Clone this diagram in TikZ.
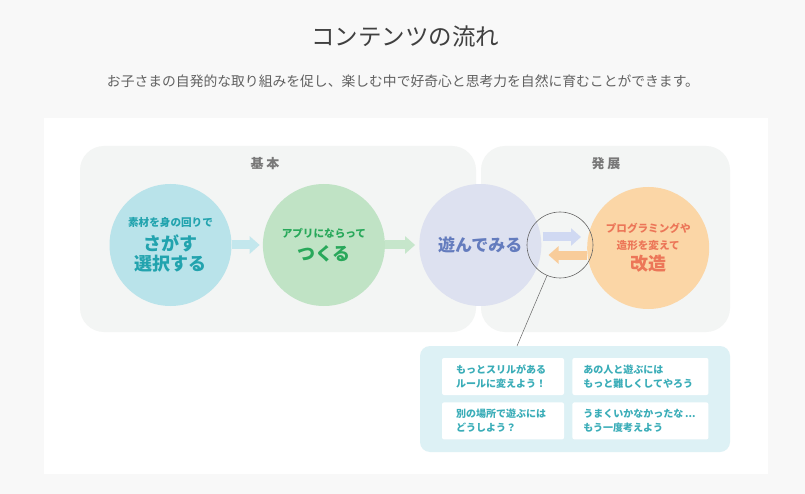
\documentclass[tikz,border=0pt]{standalone}
\usepackage{fontspec}
\setmainfont{Noto Sans CJK JP}
\usepackage{xcolor}
\usetikzlibrary{arrows.meta,positioning,calc}
\definecolor{pagecol}{RGB}{248,248,248}
\definecolor{groupcol}{RGB}{243,245,244}
\definecolor{labelcol}{RGB}{120,120,120}
\definecolor{findcol}{RGB}{185,227,234}
\definecolor{findtxt}{RGB}{34,163,174}
\definecolor{makecol}{RGB}{192,227,197}
\definecolor{maketxt}{RGB}{40,168,90}
\definecolor{playcol}{RGB}{221,225,240}
\definecolor{playtxt}{RGB}{100,124,190}
\definecolor{playarr}{RGB}{208,217,242}
\definecolor{modcol}{RGB}{251,214,166}
\definecolor{modtxt}{RGB}{236,118,88}
\definecolor{modarr}{RGB}{248,204,154}
\definecolor{tipscol}{RGB}{221,241,245}
\definecolor{tipstxt}{RGB}{58,173,184}
\begin{document}
\begin{tikzpicture}[
  x=1pt, y=-1pt,
  circ/.style={circle, minimum size=122pt, inner sep=0pt, align=center,
    font=\fontsize{18}{20}\selectfont\bfseries},
  grp/.style={rounded corners=24pt, fill=groupcol, inner sep=0pt},
  tip/.style={fill=white, rounded corners=2pt, minimum height=37pt, inner xsep=14pt,
    align=left, font=\fontsize{10}{14}\selectfont\bfseries, text=tipstxt},
  flow/.style={line width=9pt, -{Triangle[width=17pt,length=10pt]}},
]
\fill[pagecol] (0,0) rectangle (805,494);
\useasboundingbox (0,0) rectangle (805,494);
\fill[white] (44,118) rectangle (768,474);
\node[text=black!75, font=\fontsize{23.5}{28}\selectfont] (title) at (405,37) {コンテンツの流れ};
\node[text=black!62, font=\fontsize{13.8}{16}\selectfont] (sub) at (403,81)
  {お子さまの自発的な取り組みを促し、楽しむ中で好奇心と思考力を自然に育むことができます。};
\node[grp, minimum width=396pt, minimum height=186pt] (g1) at (278,239) {};
\node[grp, minimum width=249pt, minimum height=186pt] (g2) at (605.5,239) {};
\node[text=labelcol, font=\fontsize{13}{15}\selectfont\bfseries] (kihon) at (265,164) {基\hspace{3pt}本};
\node[text=labelcol, font=\fontsize{13}{15}\selectfont\bfseries] (hatten) at (606,164) {発\hspace{3pt}展};
\node[circ, fill=findcol, text=findtxt] (c1) at (170.5,245)
  {{\fontsize{10.6}{13}\selectfont 素材を身の回りで}\\[4pt] さがす\\ 選択する};
\node[circ, fill=makecol, text=maketxt, right=31pt of c1] (c2)
  {{\fontsize{10.6}{13}\selectfont アプリにならって}\\[3pt] つくる};
\node[circ, fill=playcol, text=playtxt, right=34pt of c2] (c3)
  {\fontsize{17}{20}\selectfont\raisebox{-3pt}{遊んでみる}};
\node[circ, fill=modcol, text=modtxt, right=45.5pt of c3, yshift=-3pt] (c4)
  {{\fontsize{10.6}{13}\selectfont プログラミングや}\\[-3pt]
   {\fontsize{10.6}{13}\selectfont 造形を変えて}\\[1pt] 改造};
\draw[flow, draw=findcol!85!white, shorten >=3pt] (c1.east) -- (c2.west);
\draw[flow, draw=makecol!90!white, shorten >=4pt] (c2.east) -- (c3.west);
\draw[flow, draw=playarr, shorten >=6pt, shorten <=1pt] ([yshift=8pt]c3.east) -- ([yshift=8pt]c3.east -| c4.west);
\draw[flow, draw=modarr, shorten >=7pt] ([yshift=-10pt]c3.east -| c4.west) -- ([yshift=-10pt]c3.east);
\node[circle, draw=black!60, line width=0.6pt, minimum size=66pt] (lens) at (560,245) {};
\node[fill=tipscol, rounded corners=10pt, minimum width=310pt, minimum height=106pt] (tips) at (575,399) {};
\coordinate (lensend) at (517,346);
\draw[black!60, line width=0.5pt] (lens) -- (lensend);
\node[tip, text width=94pt] (t1) at (503,376.5) {もっとスリルがある\\ ルールに変えよう！};
\node[tip, text width=114pt, inner xsep=11pt, right=8pt of t1] (t2) {あの人と遊ぶには\\ もっと難しくしてやろう};
\node[tip, text width=94pt, below=7pt of t1] (t3) {別の場所で遊ぶには\\ どうしよう？};
\node[tip, text width=114pt, inner xsep=11pt, below=7pt of t2] (t4) {うまくいかなかったな\,...\\ もう一度考えよう};
\end{tikzpicture}
\end{document}
